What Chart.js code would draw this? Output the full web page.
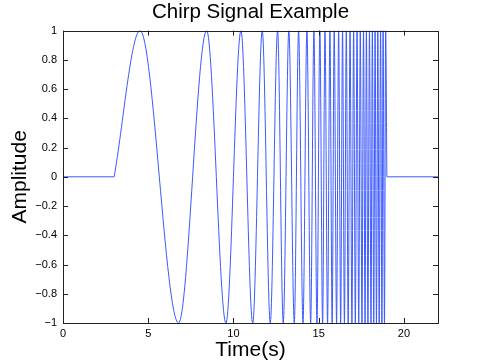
<!DOCTYPE html>
<html>
<head>
<meta charset="utf-8">
<script src="https://cdn.jsdelivr.net/npm/chart.js@4"></script>
<style>
  html, body { margin: 0; padding: 0; background: #fff; }
  #wrap { width: 485px; height: 364px; }
</style>
</head>
<body>
<div id="wrap"><canvas id="chirp"></canvas></div>
<script>
// values (seconds)
const chirpStart = 3.0;
const chirpEnd = 19.0;
const timeEnd = 22;
const peakTimes = [4.52, 8.43, 10.44, 11.69, 12.59, 13.25, 13.82, 14.31, 14.72, 15.07,
  15.37, 15.66, 15.91, 16.17, 16.40, 16.62, 16.84, 17.05, 17.25, 17.44,
  17.63, 17.80, 17.98, 18.15, 18.31, 18.47, 18.63, 18.78, 18.93];
const troughTimes = [6.78, 9.56, 11.13, 12.16, 12.92, 13.57, 14.08, 14.53, 14.90, 15.23,
  15.52, 15.79, 16.05, 16.29, 16.51, 16.73, 16.95, 17.15, 17.35, 17.54,
  17.72, 17.89, 18.07, 18.23, 18.39, 18.55, 18.71, 18.86];
const xTicks = [0, 5, 10, 15, 20];
const yTicks = [-1, -0.8, -0.6, -0.4, -0.2, 0, 0.2, 0.4, 0.6, 0.8, 1];

const lineColor = 'rgb(60,90,255)';
const font = 'Liberation Sans, Arial, Helvetica, sans-serif';

// build the point lists for the library
const extrema = peakTimes.map(t => ({ x: t, y: 1 }))
  .concat(troughTimes.map(t => ({ x: t, y: -1 })))
  .sort((a, b) => a.x - b.x);
const chirpPts = [{ x: chirpStart, y: 0 }].concat(extrema, [{ x: chirpEnd, y: 0 }]);
const flatPts = [{ x: 0, y: 0 }, { x: chirpStart, y: 0 }, { x: chirpStart, y: null },
  { x: chirpEnd, y: null }, { x: chirpEnd, y: 0 }, { x: timeEnd, y: 0 }];

const fmt = v => {
  const r = Math.round(v * 10) / 10;
  return String(r).replace('-', '\u2212');
};

// MATLAB-like box with inward ticks on all four sides
const boxTicks = {
  id: 'boxTicks',
  afterDraw(chart) {
    const { ctx, chartArea: a, scales } = chart;
    const len = 5;
    ctx.save();
    ctx.strokeStyle = '#222';
    ctx.lineWidth = 1;
    ctx.strokeRect(Math.round(a.left) + 0.5, Math.round(a.top) + 0.5,
      Math.round(a.right - a.left), Math.round(a.bottom - a.top));
    ctx.beginPath();
    xTicks.forEach(v => {
      const px = Math.round(scales.x.getPixelForValue(v)) + 0.5;
      ctx.moveTo(px, a.bottom); ctx.lineTo(px, a.bottom - len);
      ctx.moveTo(px, a.top); ctx.lineTo(px, a.top + len);
    });
    yTicks.forEach(v => {
      const py = Math.round(scales.y.getPixelForValue(v)) + 0.5;
      ctx.moveTo(a.left, py); ctx.lineTo(a.left + len, py);
      ctx.moveTo(a.right, py); ctx.lineTo(a.right - len, py);
    });
    ctx.stroke();
    ctx.restore();
  }
};

new Chart(document.getElementById('chirp'), {
  type: 'line',
  data: {
    datasets: [
      {
        data: flatPts,
        borderColor: lineColor,
        borderWidth: 1,
        pointRadius: 0,
        spanGaps: false,
        tension: 0
      },
      {
        data: chirpPts,
        borderColor: lineColor,
        borderWidth: 1,
        pointRadius: 0,
        cubicInterpolationMode: 'monotone'
      }
    ]
  },
  plugins: [boxTicks],
  options: {
    responsive: true,
    maintainAspectRatio: false,
    animation: false,
    layout: { padding: 0 },
    plugins: {
      legend: { display: false },
      tooltip: { enabled: false },
      title: {
        display: true,
        text: 'Chirp Signal Example',
        fullSize: false,
        color: '#000',
        font: { family: font, size: 20.5, weight: 'normal' },
        padding: { top: 0, bottom: 6 }
      }
    },
    scales: {
      x: {
        type: 'linear',
        min: 0,
        max: timeEnd,
        border: { display: false },
        grid: { display: false, drawTicks: false },
        afterFit: s => { s.height = 41; },
        ticks: {
          stepSize: 5,
          includeBounds: false,
          maxRotation: 0,
          padding: 4,
          color: '#000',
          font: { family: font, size: 11 },
          callback: v => fmt(v)
        },
        title: {
          display: true,
          text: 'Time(s)',
          color: '#000',
          font: { family: font, size: 21 },
          padding: { top: 1, bottom: 1 }
        }
      },
      y: {
        min: -1,
        max: 1,
        border: { display: false },
        grid: { display: false, drawTicks: false },
        afterFit: s => { s.width = 63; },
        ticks: {
          stepSize: 0.2,
          padding: 6,
          color: '#000',
          font: { family: font, size: 11 },
          callback: v => fmt(v)
        },
        title: {
          display: true,
          text: 'Amplitude',
          color: '#000',
          font: { family: font, size: 21 },
          padding: { top: 8, bottom: 8 }
        }
      },
      yr: {
        position: 'right',
        display: true,
        border: { display: false },
        grid: { display: false, drawTicks: false },
        ticks: { display: false },
        afterFit: s => { s.width = 47; }
      }
    }
  }
});
</script>
</body>
</html>
